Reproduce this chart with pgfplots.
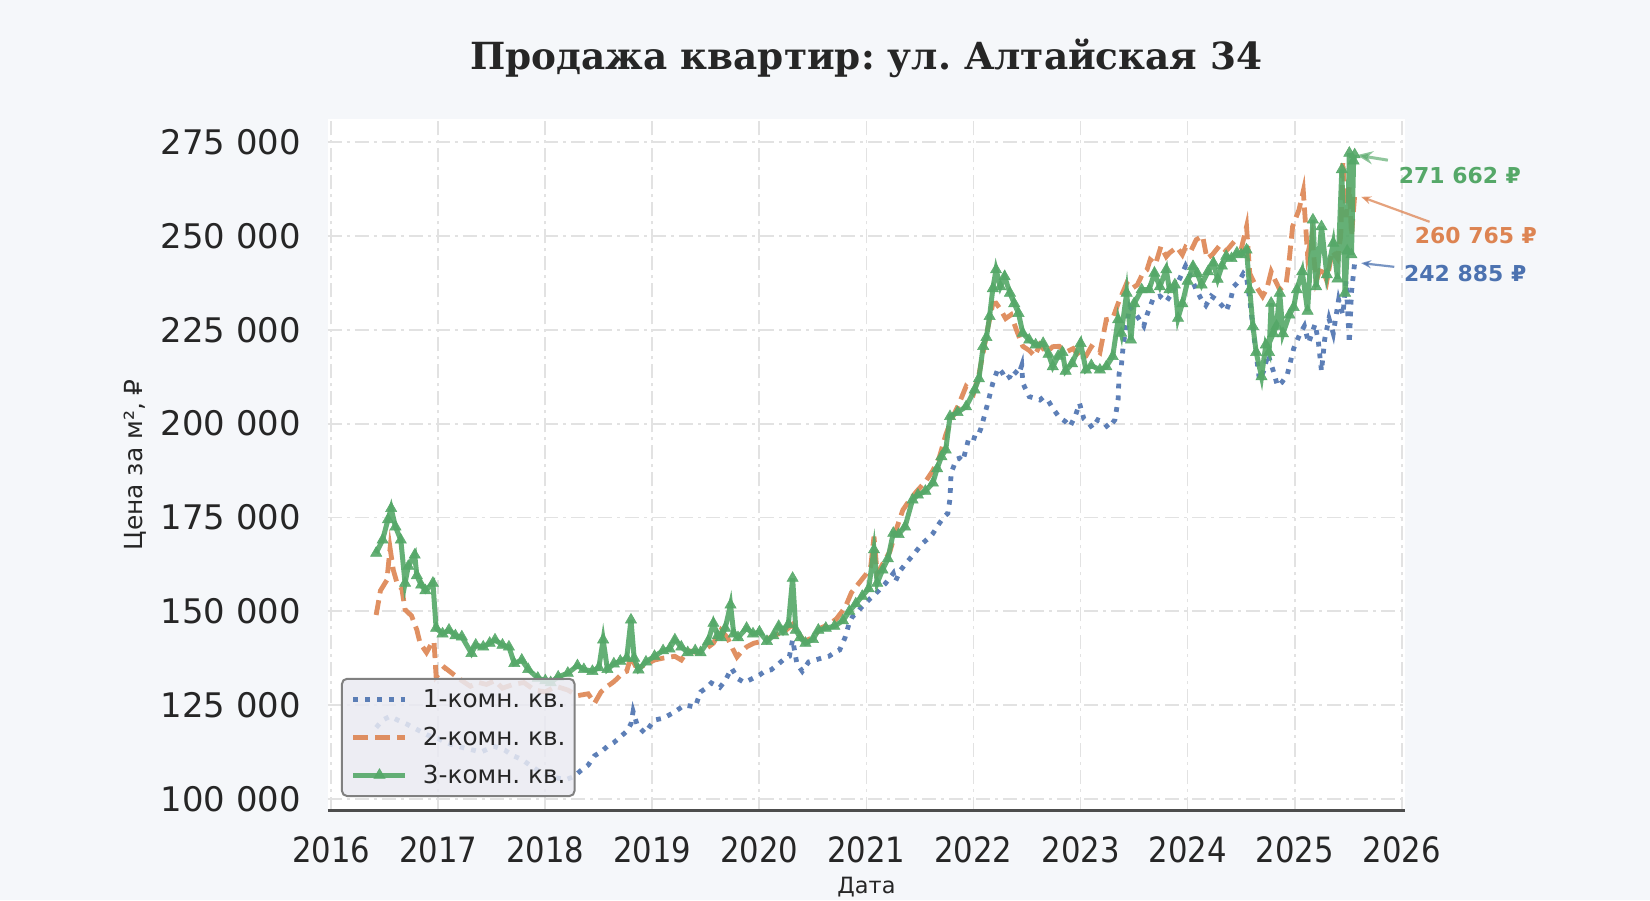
\documentclass[border=0pt]{standalone}
\usepackage{fontspec}
\setmainfont{DejaVu Sans}
\newfontfamily\titlefont{DejaVu Serif}
\newfontfamily\condfont[FakeStretch=0.88]{DejaVu Sans}
\usepackage{pgfplots}
\pgfplotsset{compat=1.18}
\usetikzlibrary{arrows.meta}
\frenchspacing

\definecolor{c1}{HTML}{4C72B0}
\definecolor{c2}{HTML}{DD8452}
\definecolor{c3}{HTML}{55A868}
\definecolor{figbg}{HTML}{F5F7FA}
\definecolor{gridc}{HTML}{E2E2E2}
\definecolor{txt}{HTML}{262626}
\definecolor{spine}{HTML}{4D4D4D}
\definecolor{legbg}{HTML}{EAEAF2}

\begin{document}
\begin{tikzpicture}
\fill[figbg] (-328bp,-89.5bp) rectangle (1322bp,810.5bp);
\begin{axis}[
    at={(0,0)}, anchor=south west,
    scale only axis, width=1077bp, height=691.6bp,
    xmin=2015.97, xmax=2026.03, ymin=96900, ymax=281200,
    clip=false,
    scaled y ticks=false,
    axis background/.style={fill=white},
    axis line style={draw=none},
    major tick length=0pt,
    xtick={2016,2017,...,2026},
    xticklabels={2016,2017,2018,2019,2020,2021,2022,2023,2024,2025,2026},
    ytick={100000,125000,150000,175000,200000,225000,250000,275000},
    yticklabels={100 000,125 000,150 000,175 000,200 000,225 000,250 000,275 000},
    xticklabel style={font=\condfont\fontsize{35}{35}\selectfont, text=txt, anchor=center, inner sep=0pt, yshift=-39bp},
    yticklabel style={font=\fontsize{34}{34}\selectfont, text=txt, anchor=east, inner sep=0pt, xshift=-27bp},
    grid=major,
    major grid style={gridc, line width=1.8bp, dash pattern=on 14bp off 5bp on 3bp off 5bp},
    legend cell align=left,
    legend image code/.code={\draw[sharp corners,mark repeat=2,mark phase=2,#1] plot coordinates {(0bp,0bp) (26bp,0bp) (52bp,0bp)};},
    legend style={at={(rel axis cs:0,0)}, anchor=south west, xshift=13bp, yshift=13.5bp,
        fill=legbg, fill opacity=0.85, text opacity=1, draw=gray, line width=2bp,
        rounded corners=5bp, font=\fontsize{24.8}{24.8}\selectfont, text=txt,
        inner xsep=9bp, inner ysep=11bp, row sep=18bp,
        nodes={inner sep=0pt},
        /tikz/every odd column/.append style={column sep=15bp}},
]
\addplot[c1, draw opacity=0.9, line width=4.8bp, dash pattern=on 4.8bp off 7bp] coordinates {
(2016.42,119000) (2016.48,121000) (2016.55,122000) (2016.62,121000) (2016.70,120000) (2016.80,118500) (2016.90,117000) (2017.00,116000) (2017.12,114500) (2017.25,113500) (2017.40,112500) (2017.52,114000) (2017.62,113000) (2017.70,111500) (2017.78,110500) (2017.88,108500) (2017.96,107000) (2018.05,106000) (2018.12,105500) (2018.20,105200) (2018.27,106000) (2018.33,107500) (2018.40,109000) (2018.46,111500) (2018.52,112500) (2018.58,114000) (2018.64,115000) (2018.70,116500) (2018.76,118000) (2018.80,120000) (2018.82,123300) (2018.86,119500) (2018.93,117500) (2018.98,119500) (2019.02,121000) (2019.10,121500) (2019.20,123000) (2019.30,125000) (2019.40,124500) (2019.45,128500) (2019.50,129500) (2019.55,130900) (2019.63,129700) (2019.68,131500) (2019.74,134800) (2019.80,132000) (2019.86,131000) (2019.93,132000) (2020.00,133000) (2020.05,134000) (2020.11,134400) (2020.18,136000) (2020.24,137500) (2020.28,138000) (2020.31,142400) (2020.35,136000) (2020.40,134000) (2020.46,136500) (2020.52,137000) (2020.58,137500) (2020.65,138000) (2020.70,139000) (2020.75,139700) (2020.80,143000) (2020.84,147000) (2020.87,148600) (2020.91,149500) (2020.95,151000) (2021.02,153000) (2021.08,154500) (2021.12,155700) (2021.18,157500) (2021.25,160100) (2021.27,158000) (2021.32,161000) (2021.37,162800) (2021.45,165500) (2021.52,168000) (2021.58,169500) (2021.62,170700) (2021.67,173000) (2021.72,175000) (2021.76,176100) (2021.78,180000) (2021.79,186800) (2021.84,190500) (2021.87,190800) (2021.90,190000) (2021.96,196600) (2022.03,196000) (2022.07,198800) (2022.11,203000) (2022.14,206300) (2022.18,210800) (2022.23,214800) (2022.27,213500) (2022.30,211800) (2022.34,212500) (2022.37,214300) (2022.42,213000) (2022.45,215500) (2022.46,210800) (2022.52,207200) (2022.57,206800) (2022.62,206300) (2022.65,207000) (2022.70,206000) (2022.74,204100) (2022.80,201700) (2022.86,200500) (2022.90,199200) (2022.95,202000) (2022.99,205400) (2023.03,201300) (2023.08,200000) (2023.11,198800) (2023.16,201000) (2023.21,200500) (2023.26,198800) (2023.32,201000) (2023.35,206300) (2023.36,213400) (2023.38,215200) (2023.40,221400) (2023.46,231200) (2023.52,229000) (2023.59,226000) (2023.62,229000) (2023.68,233500) (2023.74,234000) (2023.80,232500) (2023.86,235000) (2023.92,238300) (2023.98,242000) (2024.03,239000) (2024.08,235700) (2024.13,233000) (2024.17,231500) (2024.22,234000) (2024.27,233000) (2024.32,231500) (2024.36,230000) (2024.40,233000) (2024.43,236500) (2024.48,238000) (2024.52,240000) (2024.55,239000) (2024.58,233000) (2024.62,223000) (2024.67,211700) (2024.71,214000) (2024.75,218500) (2024.80,214000) (2024.84,210000) (2024.88,211000) (2024.93,213000) (2024.99,220000) (2025.05,224000) (2025.09,226000) (2025.13,221500) (2025.19,226500) (2025.22,222000) (2025.25,214000) (2025.28,222500) (2025.32,228000) (2025.36,224000) (2025.41,233000) (2025.45,229000) (2025.48,238000) (2025.51,221400) (2025.53,235000) (2025.56,242885)
};
\addlegendentry{1-комн. кв.}
\addplot[c2, draw opacity=0.9, line width=4.8bp, dash pattern=on 15bp off 7bp] coordinates {
(2016.42,149000) (2016.46,155500) (2016.52,158300) (2016.55,166800) (2016.58,161000) (2016.62,157000) (2016.66,156000) (2016.69,150400) (2016.75,148800) (2016.80,145000) (2016.83,141500) (2016.89,139000) (2016.93,141000) (2016.96,142000) (2016.98,132500) (2017.06,135000) (2017.15,133000) (2017.22,131500) (2017.30,130000) (2017.38,131000) (2017.45,130500) (2017.53,131500) (2017.60,129500) (2017.70,130500) (2017.80,131000) (2017.90,129000) (2018.00,128500) (2018.10,130000) (2018.21,129000) (2018.30,127500) (2018.40,128000) (2018.46,125500) (2018.52,128500) (2018.58,130000) (2018.63,131000) (2018.67,132000) (2018.72,133500) (2018.76,134000) (2018.80,138000) (2018.84,135500) (2018.88,135000) (2018.95,136000) (2019.02,137000) (2019.10,137500) (2019.21,138000) (2019.27,137000) (2019.33,139500) (2019.42,139000) (2019.50,140000) (2019.57,141500) (2019.64,145000) (2019.70,143000) (2019.75,140000) (2019.79,137800) (2019.84,139500) (2019.88,140500) (2019.95,141500) (2020.03,142000) (2020.10,143000) (2020.18,144000) (2020.25,145000) (2020.31,146500) (2020.35,144600) (2020.42,142000) (2020.50,143000) (2020.57,145500) (2020.65,146500) (2020.72,148000) (2020.80,151000) (2020.86,155000) (2020.93,157500) (2021.00,160000) (2021.04,162000) (2021.07,169900) (2021.10,160000) (2021.15,162500) (2021.22,166000) (2021.28,172000) (2021.34,177000) (2021.40,179500) (2021.47,182000) (2021.55,184500) (2021.62,187500) (2021.68,191000) (2021.74,197000) (2021.80,201500) (2021.86,205000) (2021.93,209900) (2022.00,208000) (2022.05,213000) (2022.09,219000) (2022.13,225000) (2022.18,232000) (2022.21,232100) (2022.25,230500) (2022.30,228000) (2022.35,229000) (2022.40,225000) (2022.46,220600) (2022.52,219500) (2022.57,218000) (2022.62,221000) (2022.68,219000) (2022.74,220500) (2022.80,220600) (2022.86,219000) (2022.93,220000) (2023.00,217500) (2023.05,218000) (2023.10,220500) (2023.18,218900) (2023.24,227700) (2023.30,228000) (2023.35,232000) (2023.43,237400) (2023.48,236000) (2023.53,237000) (2023.58,240000) (2023.62,241000) (2023.65,243700) (2023.70,242500) (2023.75,247200) (2023.80,244500) (2023.83,245500) (2023.90,247000) (2023.95,245000) (2023.98,247000) (2024.03,246000) (2024.08,249000) (2024.14,250000) (2024.18,244000) (2024.23,245000) (2024.30,247500) (2024.36,246000) (2024.42,248000) (2024.46,247000) (2024.50,246500) (2024.55,252500) (2024.58,240000) (2024.63,237000) (2024.70,233900) (2024.74,236000) (2024.78,240500) (2024.82,238000) (2024.86,235700) (2024.92,237300) (2024.95,244000) (2024.98,252500) (2025.04,257000) (2025.08,262000) (2025.12,245000) (2025.16,250000) (2025.20,238000) (2025.25,242000) (2025.30,238000) (2025.35,246000) (2025.40,244000) (2025.43,250000) (2025.45,269900) (2025.48,255000) (2025.51,263000) (2025.53,250000) (2025.56,260765)
};
\addlegendentry{2-комн. кв.}
\addplot[c3, draw opacity=0.9, line width=5bp, mark=triangle*, mark size=6.5bp, mark options={solid, fill=c3, draw=c3, line width=0.5bp, fill opacity=0.9, draw opacity=0.9}] coordinates {
(2016.42,165500) (2016.48,169000) (2016.53,174400) (2016.56,177400) (2016.60,172500) (2016.65,169000) (2016.69,157500) (2016.72,162000) (2016.78,165000) (2016.80,159500) (2016.84,157000) (2016.88,155500) (2016.95,157500) (2016.98,145500) (2017.04,144000) (2017.10,145000) (2017.16,143500) (2017.22,143200) (2017.31,138800) (2017.35,141000) (2017.42,140500) (2017.48,141500) (2017.53,142400) (2017.60,141000) (2017.66,140500) (2017.71,136100) (2017.78,137000) (2017.84,134500) (2017.93,132200) (2018.00,131500) (2018.05,131000) (2018.12,132500) (2018.21,133500) (2018.30,135500) (2018.36,134500) (2018.44,134000) (2018.50,135000) (2018.54,142400) (2018.58,134500) (2018.64,136000) (2018.70,136700) (2018.76,137500) (2018.80,147700) (2018.83,137500) (2018.87,134400) (2018.94,136500) (2019.02,138000) (2019.10,139500) (2019.16,140000) (2019.21,142400) (2019.27,140500) (2019.33,139000) (2019.40,139500) (2019.45,139000) (2019.52,142000) (2019.57,146800) (2019.61,143500) (2019.64,143000) (2019.68,145500) (2019.73,151700) (2019.76,144000) (2019.80,143000) (2019.88,145500) (2019.94,144000) (2020.00,144500) (2020.07,142000) (2020.13,143500) (2020.18,146000) (2020.22,144500) (2020.27,146500) (2020.31,158800) (2020.34,145000) (2020.38,143000) (2020.43,141500) (2020.50,142500) (2020.55,145000) (2020.62,145500) (2020.70,146000) (2020.78,147500) (2020.84,150000) (2020.90,152000) (2020.96,154000) (2021.02,156000) (2021.07,166400) (2021.10,157500) (2021.15,161000) (2021.20,164000) (2021.25,170800) (2021.30,170500) (2021.36,172500) (2021.43,179700) (2021.48,181000) (2021.55,182000) (2021.62,184200) (2021.66,188000) (2021.70,191200) (2021.74,193000) (2021.78,201900) (2021.85,203000) (2021.93,204500) (2022.01,209000) (2022.05,212000) (2022.09,220600) (2022.12,223000) (2022.15,228600) (2022.18,236000) (2022.21,241000) (2022.25,236500) (2022.29,239200) (2022.34,234800) (2022.38,232000) (2022.42,229400) (2022.46,224100) (2022.52,222300) (2022.58,221000) (2022.65,221400) (2022.70,218500) (2022.74,215200) (2022.79,218000) (2022.83,219000) (2022.86,214000) (2022.92,216000) (2023.00,221400) (2023.05,214300) (2023.10,215500) (2023.18,214300) (2023.24,215200) (2023.30,217900) (2023.35,227700) (2023.38,224100) (2023.43,234800) (2023.47,222300) (2023.50,232000) (2023.57,235700) (2023.64,235700) (2023.69,240100) (2023.74,236500) (2023.80,241000) (2023.83,235700) (2023.88,237000) (2023.91,228100) (2023.95,232000) (2024.00,238000) (2024.05,241900) (2024.09,240000) (2024.13,237000) (2024.19,240500) (2024.24,242800) (2024.28,238500) (2024.32,242000) (2024.36,244600) (2024.41,244000) (2024.46,245500) (2024.50,245000) (2024.55,246300) (2024.58,235700) (2024.61,225900) (2024.64,219000) (2024.69,212500) (2024.73,221000) (2024.76,219000) (2024.78,232100) (2024.80,224000) (2024.83,226000) (2024.86,234800) (2024.89,224000) (2024.95,229000) (2024.99,231000) (2025.02,235700) (2025.07,240500) (2025.12,230000) (2025.17,254300) (2025.20,236500) (2025.25,252500) (2025.30,239700) (2025.36,248100) (2025.40,238600) (2025.44,267700) (2025.47,234800) (2025.49,246000) (2025.51,272100) (2025.53,245000) (2025.55,270000) (2025.56,271662)
};
\addlegendentry{3-комн. кв.}
% bottom spine
\draw[spine, line width=3.2bp] (rel axis cs:0,0) -- (rel axis cs:1,0);
% end-value annotations
\draw[c3, opacity=0.65, line width=3bp, -{Stealth[length=16bp,width=13bp]}] (axis cs:2025.87,270200) -- (axis cs:2025.58,271540);
\node[anchor=west, text=c3, font=\bfseries\fontsize{22}{22}\selectfont] at (axis cs:2025.94,266200) {271 662 ₽};
\draw[c2, opacity=0.75, line width=2.2bp, -{Stealth[length=10bp,width=8bp]}] (axis cs:2026.26,253770) -- (axis cs:2025.62,260430);
\node[anchor=west, text=c2, font=\bfseries\fontsize{22}{22}\selectfont] at (axis cs:2026.09,250230) {260 765 ₽};
\draw[c1, opacity=0.75, line width=2.2bp, -{Stealth[length=10bp,width=8bp]}] (axis cs:2025.93,241780) -- (axis cs:2025.62,242770);
\node[anchor=west, text=c1, font=\bfseries\fontsize{22}{22}\selectfont] at (axis cs:2025.99,240100) {242 885 ₽};
\end{axis}
\node[font=\titlefont\bfseries\fontsize{37.5}{37.5}\selectfont, text=txt] at (538.5bp,752.5bp) {Продажа квартир: ул. Алтайская 34};
\node[font=\fontsize{22.5}{22.5}\selectfont, text=txt] at (538.5bp,-76.5bp) {Дата};
\node[rotate=90, font=\fontsize{25}{25}\selectfont, text=txt] at (-193bp,345.8bp) {Цена за м², ₽};
\end{tikzpicture}
\end{document}
